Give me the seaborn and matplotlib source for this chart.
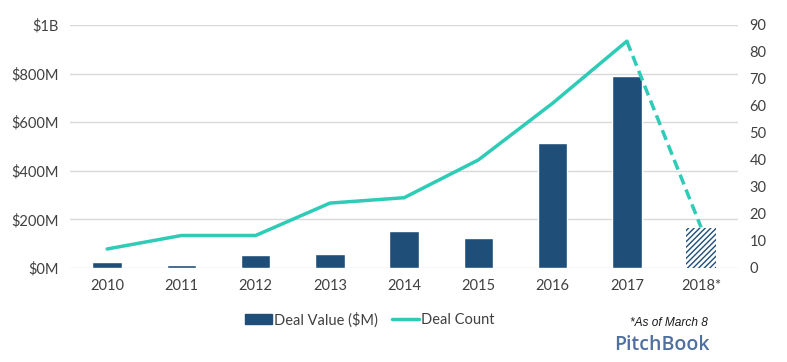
import matplotlib.pyplot as plt
import numpy as np
import pandas as pd
import seaborn as sns
from matplotlib.lines import Line2D
from matplotlib.patches import Patch

years = ["2010", "2011", "2012", "2013", "2014", "2015", "2016", "2017", "2018*"]
deal_value = [25, 12, 53, 58, 152, 123, 514, 790, 165]  # $M
deal_count = [7, 12, 12, 24, 26, 40, 61, 84, 15]

value_ticks = [0, 200, 400, 600, 800, 1000]
value_labels = ["$0M", "$200M", "$400M", "$600M", "$800M", "$1B"]
count_ticks = list(range(0, 100, 10))

BLUE = "#1f4e79"
TEAL = "#2ecbb6"
GRID = "#d9d9d9"
TEXT = "#404040"

sns.set_style("white")
plt.rcParams["font.family"] = ["Lato", "DejaVu Sans"]
plt.rcParams["hatch.linewidth"] = 1.0
plt.rcParams["hatch.color"] = BLUE


def main():
    df = pd.DataFrame({"year": years, "value": deal_value, "count": deal_count})
    df["pos"] = np.arange(len(df))

    fig = plt.figure(figsize=(7.87, 3.62), dpi=100)
    ax = fig.add_axes([0.089, 0.26, 0.849, 0.671])

    sns.barplot(data=df, x="year", y="value", color=BLUE, width=0.4,
                saturation=1, ax=ax, zorder=2)
    # last bar is a partial year -> hatched
    last = ax.patches[-1]
    last.set_facecolor("white")
    last.set_edgecolor(BLUE)
    last.set_linewidth(0)
    last.set_hatch("//////")

    ax.set_ylim(0, 1000)
    ax.set_yticks(value_ticks)
    ax.set_yticklabels(value_labels)
    ax.set_xlim(-0.5, len(df) - 0.5)
    ax.set_xlabel("")
    ax.set_ylabel("")
    ax.grid(axis="y", color=GRID, linewidth=1)
    ax.set_axisbelow(True)
    ax.tick_params(length=0, labelsize=10.5, colors=TEXT, pad=8)
    for s in ax.spines.values():
        s.set_visible(False)

    ax2 = ax.twinx()
    solid = df.iloc[:-1]
    dashed = df.iloc[-2:]
    sns.lineplot(data=solid, x="pos", y="count", color=TEAL, linewidth=2.5,
                 ax=ax2)
    sns.lineplot(data=dashed, x="pos", y="count", color=TEAL, linewidth=2.5,
                 linestyle=(0, (3, 1.6)), ax=ax2)
    ax2.set_ylim(0, 90)
    ax2.set_yticks(count_ticks)
    ax2.set_xlim(-0.5, len(df) - 0.5)
    ax2.set_ylabel("")
    ax2.set_xlabel("")
    ax2.tick_params(length=0, labelsize=10.5, colors=TEXT, pad=8)
    for s in ax2.spines.values():
        s.set_visible(False)

    handles = [Patch(facecolor=BLUE, edgecolor=BLUE),
               Line2D([0], [0], color=TEAL, linewidth=2.5)]
    fig.legend(handles, ["Deal Value ($M)", "Deal Count"],
               loc="center", bbox_to_anchor=(0.47, 0.117), ncol=2,
               frameon=False, fontsize=10.5, handlelength=1.8,
               handletextpad=0.15, columnspacing=1.0, labelcolor=TEXT)

    fig.text(0.899, 0.107, "*As of March 8", ha="right", va="center",
             fontsize=8.6, style="italic", color="#1a1a1a",
             family=["Liberation Sans", "DejaVu Sans"])
    fig.text(0.902, 0.047, "PitchBook", ha="right", va="center",
             fontsize=14, color="#4f70a0", weight="semibold",
             family=["Open Sans", "DejaVu Sans"])

    fig.savefig("out.png", dpi=100)


if __name__ == "__main__":
    main()
